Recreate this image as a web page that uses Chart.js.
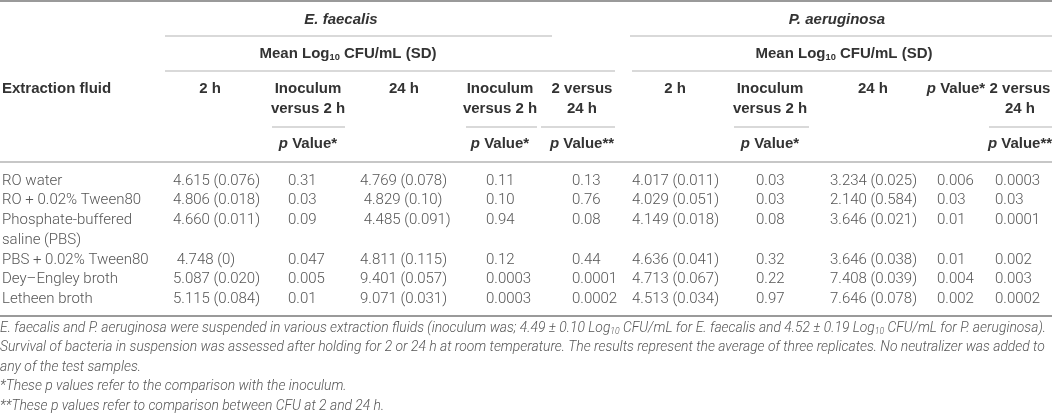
<!DOCTYPE html>
<html>
<head>
<meta charset="utf-8">
<script src="https://cdn.jsdelivr.net/npm/chart.js@4/dist/chart.umd.min.js"></script>
<style>
  html, body { margin: 0; padding: 0; background: #fff; }
  #wrap { position: relative; width: 1052px; height: 414px; }
</style>
</head>
<body>
<div id="wrap"><canvas id="table-chart"></canvas></div>
<script>
// Row labels ("\n" = label wraps onto a second line)
const fluids = ['RO water', 'RO + 0.02% Tween80', 'Phosphate-buffered\nsaline (PBS)', 'PBS + 0.02% Tween80', 'Dey\u2013Engley broth', 'Letheen broth'];

// E. faecalis
const efMean2h = ['4.615 (0.076)', '4.806 (0.018)', '4.660 (0.011)', ' 4.748 (0)', '5.087 (0.020)', '5.115 (0.084)'];
const efP2h = ['0.31', '0.03', '0.09', '0.047', '0.005', '0.01'];
const efMean24h = ['4.769 (0.078)', ' 4.829 (0.10)', ' 4.485 (0.091)', '4.811 (0.115)', '9.401 (0.057)', '9.071 (0.031)'];
const efP24h = ['0.11', '0.10', '0.94', '0.12', '0.0003', '0.0003'];
const efP2v24 = ['0.13', '0.76', '0.08', '0.44', '0.0001', '0.0002'];

// P. aeruginosa
const paMean2h = ['4.017 (0.011)', '4.029 (0.051)', '4.149 (0.018)', '4.636 (0.041)', '4.713 (0.067)', '4.513 (0.034)'];
const paP2h = ['0.03', '0.03', '0.08', '0.32', '0.22', '0.97'];
const paMean24h = ['3.234 (0.025)', '2.140 (0.584)', '3.646 (0.021)', '3.646 (0.038)', '7.408 (0.039)', '7.646 (0.078)'];
const paP24h = ['0.006', '0.03', '0.01', '0.01', '0.004', '0.002'];
const paP2v24 = ['0.0003', '0.03', '0.0001', '0.002', '0.003', '0.0002'];

// Header texts
const groupTitles = ['<i>E. faecalis</i>', '<i>P. aeruginosa</i>'];
const groupSubtitle = 'Mean Log<sub>10</sub> CFU/mL (SD)';
const colHeads = [
  ['Extraction fluid'],
  ['2 h'], ['Inoculum', 'versus 2 h'], ['24 h'], ['Inoculum', 'versus 2 h'], ['2 versus', '24 h'],
  ['2 h'], ['Inoculum', 'versus 2 h'], ['24 h'], ['<i>p</i> Value*'], ['2 versus', '24 h']
];
const colSubHeads = [null, null, '<i>p</i> Value*', null, '<i>p</i> Value*', '<i>p</i> Value**', null, '<i>p</i> Value*', null, null, '<i>p</i> Value**'];

const notes = [
  'E. faecalis and P. aeruginosa were suspended in various extraction fluids (inoculum was; 4.49 \u00b1 0.10 Log<sub>10</sub> CFU/mL for E. faecalis and 4.52 \u00b1 0.19 Log<sub>10</sub> CFU/mL for P. aeruginosa).',
  'Survival of bacteria in suspension was assessed after holding for 2 or 24 h at room temperature. The results represent the average of three replicates. No neutralizer was added to',
  'any of the test samples.',
  '*These p values refer to the comparison with the inoculum.',
  '**These p values refer to comparison between CFU at 2 and 24 h.'
];

const columns = [fluids, efMean2h, efP2h, efMean24h, efP24h, efP2v24, paMean2h, paP2h, paMean24h, paP24h, paP2v24];

// Layout (pixels of the 1052x414 page)
const W = 1052, H = 414;
const colLeft = [2, 173, 288, 360, 486, 572, 632, 756, 830, 937, 995];
const colCenter = [null, 210, 308, 404, 500, 582, 675, 770, 873, 956, 1020];
const rowTop = 181, rowH = 19.7;
const rowLine = [0, 1, 2, 4, 5, 6];
const groupCenter = [341, 837];
const noteTop = 328, noteH = 19.5, noteWidth = 1046;

const ink = '#333', grey = '#555', rule = '#b4b4b4', heavyRule = '#9a9a9a';
const boldFont = { weight: 'bold', size: 15, family: "'Liberation Sans', Arial, sans-serif" };
const lightFont = { weight: '300', size: 15, family: 'Roboto, sans-serif' };
const noteFont = { weight: '300', size: 15, family: 'Roboto, sans-serif', italic: true };

function parts(str) {
  return str.split(/(<i>.*?<\/i>|<sub>.*?<\/sub>)/).filter(s => s).map(s => {
    if (s.startsWith('<i>')) return { t: s.slice(3, -4), i: true };
    if (s.startsWith('<sub>')) return { t: s.slice(5, -6), sub: true };
    return { t: s };
  });
}
function fontFor(base, p) {
  const size = p.sub ? base.size * 0.62 : base.size;
  return ((base.italic || p.i) ? 'italic ' : '') + base.weight + ' ' + size + 'px ' + base.family;
}
function richWidth(ctx, str, base) {
  let w = 0;
  parts(str).forEach(p => { ctx.font = fontFor(base, p); w += ctx.measureText(p.t).width; });
  return w;
}
function drawRich(ctx, str, x, y, base, align) {
  let cx = align === 'center' ? x - richWidth(ctx, str, base) / 2 : x;
  parts(str).forEach(p => {
    ctx.font = fontFor(base, p);
    ctx.fillText(p.t, cx, p.sub ? y + base.size * 0.22 : y);
    cx += ctx.measureText(p.t).width;
  });
}

const tablePlugin = {
  id: 'tableText',
  afterDatasetsDraw(chart) {
    const ctx = chart.ctx;
    const xs = chart.scales.x, ys = chart.scales.y;
    const px = v => xs.getPixelForValue(v), py = v => ys.getPixelForValue(v);
    ctx.save();
    ctx.textBaseline = 'middle';

    // rules
    const hline = (x0, x1, y, color, lw) => {
      ctx.strokeStyle = color; ctx.lineWidth = lw;
      ctx.beginPath(); ctx.moveTo(px(x0), py(y)); ctx.lineTo(px(x1), py(y)); ctx.stroke();
    };
    hline(0, W, 1, heavyRule, 2);
    hline(165, 552, 36, rule, 1.2); hline(630, W, 36, rule, 1.2);
    hline(165, 615, 71, rule, 1.2); hline(632, W, 71, rule, 1.2);
    [[272, 345], [466, 537], [541, 615], [734, 809], [989, W]].forEach(s => hline(s[0], s[1], 127, rule, 1.2));
    hline(0, W, 162, rule, 1.5);
    hline(0, W, 316, heavyRule, 2);

    // group headers
    ctx.fillStyle = ink;
    groupTitles.forEach((t, g) => {
      drawRich(ctx, t, px(groupCenter[g]), py(20), boldFont, 'center');
      drawRich(ctx, groupSubtitle, px(groupCenter[g] + 7), py(54), boldFont, 'center');
    });

    // column headers
    colHeads.forEach((lines, c) => {
      lines.forEach((t, k) => {
        const y = py(89 + k * 19.5);
        if (c === 0) drawRich(ctx, t, px(colLeft[0]), y, boldFont, 'left');
        else drawRich(ctx, t, px(colCenter[c]), y, boldFont, 'center');
      });
      if (colSubHeads[c]) drawRich(ctx, colSubHeads[c], px(colCenter[c]), py(144), boldFont, 'center');
    });

    // body cells, positioned by each dataset's points
    ctx.fillStyle = grey;
    chart.data.datasets.forEach((ds, c) => {
      const meta = chart.getDatasetMeta(c);
      meta.data.forEach((pt, r) => {
        columns[c][r].split('\n').forEach((line, k) => {
          drawRich(ctx, line, pt.x, pt.y + k * (py(rowH) - py(0)), lightFont, 'left');
        });
      });
    });

    // footnotes, condensed to the table width
    const sx = noteWidth / richWidth(ctx, notes[0], noteFont);
    notes.forEach((t, k) => {
      ctx.save();
      ctx.translate(px(0), py(noteTop + k * noteH));
      ctx.scale(sx, 1);
      drawRich(ctx, t, 0, 0, noteFont, 'left');
      ctx.restore();
    });
    ctx.restore();
  }
};

new Chart(document.getElementById('table-chart').getContext('2d'), {
  type: 'scatter',
  data: {
    datasets: columns.map((col, c) => ({
      label: 'column ' + c,
      data: col.map((v, r) => ({ x: colLeft[c], y: rowTop + rowLine[r] * rowH })),
      pointRadius: 0,
      showLine: false
    }))
  },
  options: {
    responsive: true,
    maintainAspectRatio: false,
    animation: false,
    events: [],
    layout: { padding: 0 },
    plugins: { legend: { display: false }, tooltip: { enabled: false }, title: { display: false } },
    scales: {
      x: { type: 'linear', display: false, min: 0, max: W },
      y: { type: 'linear', display: false, min: 0, max: H, reverse: true }
    }
  },
  plugins: [tablePlugin]
});
</script>
</body>
</html>
